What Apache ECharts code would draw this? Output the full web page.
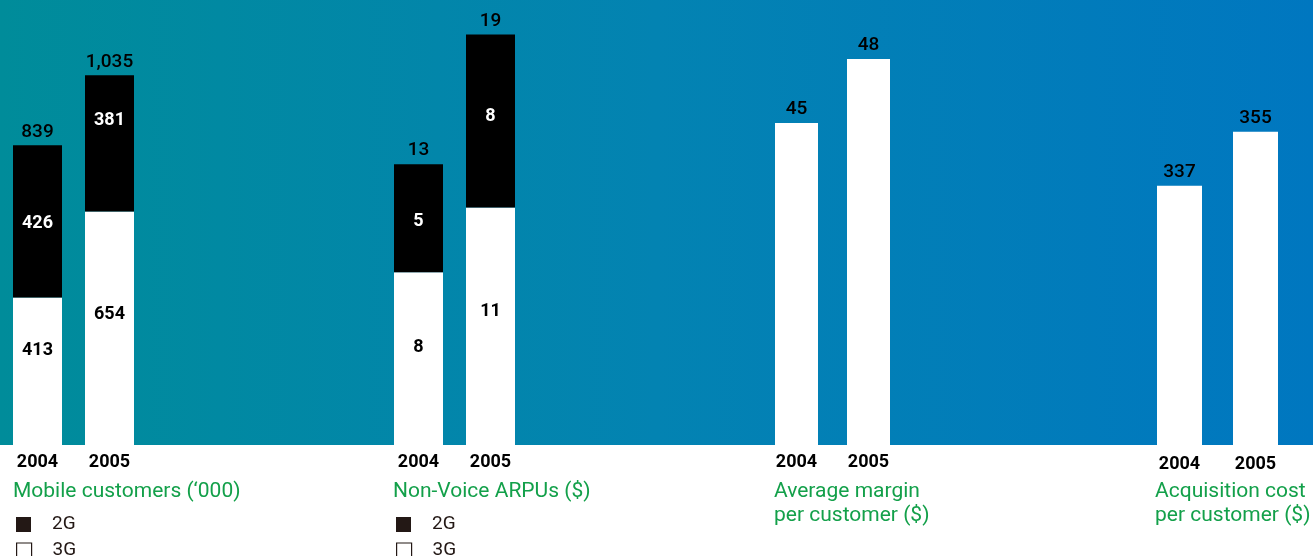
<!DOCTYPE html>
<html><head><meta charset="utf-8">
<script src="https://cdn.jsdelivr.net/npm/echarts@6/dist/echarts.min.js"></script>
<style>html,body{margin:0;padding:0;background:#fff}#c{width:1313px;height:556px}</style>
</head><body><div id="c"></div>
<script>
const years = ['2004', '2005'];
const mobile3G = [413, 654];
const mobile2G = [426, 381];
const arpu3G = [8, 11];
const arpu2G = [5, 8];
const margin = [45, 48];
const acquisition = [337, 355];
const titles = ['Mobile customers (\u2018000)', 'Non-Voice ARPUs ($)', 'Average margin\nper customer ($)', 'Acquisition cost\nper customer ($)'];
const legendNames = ['2G', '3G'];

const FONT = 'Roboto';
const GREEN = '#13a04a';
const DARK = '#231815';

const grids = [
  {left: 1.5, width: 144, top: 0, height: 445},
  {left: 382.5, width: 144, top: 0, height: 445},
  {left: 760.5, width: 144, top: 0, height: 445},
  {left: 1141.5, width: 152, top: 0, height: 445}
];
const yRanges = [[0, 1246], [0, 20.6], [29.9, 50.76], [250.6, 398.9]];
const barWidths = [49, 49, 43, 45];
const titleX = [13, 393, 774, 1155];
// label offsets (style only)
const off3G = [[-21, -14], [-11, -15]];
const off2G = [[2, -23], [3, -4]];

const xAxes = grids.map((g, i) => ({
  type: 'category', gridIndex: i, data: years,
  axisLine: {show: false}, axisTick: {show: false},
  axisLabel: {color: '#000', fontFamily: FONT, fontWeight: 'bold', fontSize: 18, margin: i === 3 ? 10 : 8}
}));
const yAxes = grids.map((g, i) => ({
  type: 'value', gridIndex: i, min: yRanges[i][0], max: yRanges[i][1], show: false
}));

const fmt = v => v.toLocaleString('en-US');
const topLabel = {show: true, position: 'top', distance: 4, color: '#000', fontFamily: FONT, fontWeight: 500, fontSize: 19, formatter: p => fmt(p.value)};

function withOffsets(vals, offs) {
  return vals.map((v, k) => ({value: v, label: {offset: [0, offs[k]]}}));
}
function stacked(idx, s3, s2, stackName, pi) {
  const totals = s3.map((v, k) => v + s2[k]);
  return [
    {name: '3G', type: 'bar', xAxisIndex: idx, yAxisIndex: idx, stack: stackName, data: withOffsets(s3, off3G[pi]), barWidth: barWidths[idx],
     itemStyle: {color: '#ffffff'},
     label: {show: true, position: 'inside', color: '#000', fontFamily: FONT, fontWeight: 'bold', fontSize: 18}},
    {name: '2G', type: 'bar', xAxisIndex: idx, yAxisIndex: idx, stack: stackName, data: withOffsets(s2, off2G[pi]), barWidth: barWidths[idx],
     itemStyle: {color: '#000000'},
     label: {show: true, position: 'inside', color: '#fff', fontFamily: FONT, fontWeight: 'bold', fontSize: 18}},
    {name: 'total', type: 'bar', xAxisIndex: idx, yAxisIndex: idx, data: totals, barWidth: barWidths[idx], barGap: '-100%',
     itemStyle: {color: 'rgba(0,0,0,0)'}, silent: true, label: topLabel}
  ];
}
function single(idx, vals) {
  return {name: 'v' + idx, type: 'bar', xAxisIndex: idx, yAxisIndex: idx, data: vals, barWidth: barWidths[idx],
    itemStyle: {color: '#ffffff'}, label: topLabel};
}

const series = [].concat(
  stacked(0, mobile3G, mobile2G, 's0', 0),
  stacked(1, arpu3G, arpu2G, 's1', 1),
  [single(2, margin), single(3, acquisition)]
);

const legendItems = [
  {name: legendNames[0], itemStyle: {color: '#231815', borderWidth: 0}},
  {name: legendNames[1], itemStyle: {color: '#ffffff', borderColor: DARK, borderWidth: 1.2}}
];
const legends = [];
[16, 396].forEach(x => {
  legendItems.forEach((it, r) => {
    legends.push({
      left: x, top: 515 + r * 26, padding: 0, orient: 'horizontal', itemWidth: 15, itemHeight: 15,
      selectedMode: false, icon: 'rect', data: [it],
      textStyle: {color: DARK, fontFamily: FONT, fontSize: 19, fontWeight: 'normal', padding: [0, 0, 0, 16]}
    });
  });
});

const graphic = [
  {type: 'rect', z: -10, silent: true, shape: {x: 0, y: 0, width: 1313, height: 445},
   style: {fill: new echarts.graphic.LinearGradient(0, 0, 1, 0, [
     {offset: 0, color: '#008c9a'}, {offset: 0.5, color: '#0383b2'}, {offset: 1, color: '#0077c0'}])}}
].concat(titles.map((t, i) => ({
  type: 'text', left: titleX[i], top: 480, silent: true,
  style: {text: t, fill: GREEN, font: '21px ' + FONT, lineHeight: 24}
})));

const chart = echarts.init(document.getElementById('c'), null, {renderer: 'canvas'});
chart.setOption({
  backgroundColor: '#ffffff',
  animation: false,
  grid: grids, xAxis: xAxes, yAxis: yAxes, series: series,
  legend: legends, graphic: graphic
});
</script></body></html>
